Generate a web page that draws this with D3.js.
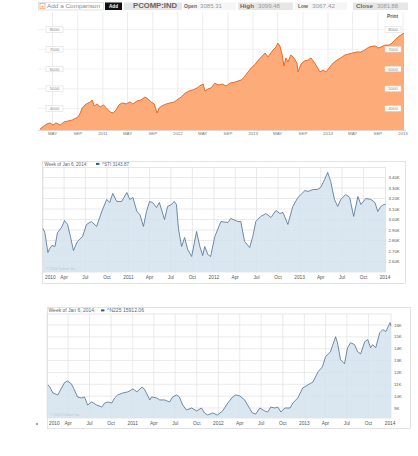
<!DOCTYPE html>
<html>
<head>
<meta charset="utf-8">
<script src="https://cdn.jsdelivr.net/npm/d3@7"></script>
<style>
  body { margin: 0; background: #fff; }
  svg { display: block; font-family: "Liberation Sans", Arial, sans-serif; }
</style>
</head>
<body>
<svg id="chart"></svg>
<script>
// ---- PCOMP:IND (top, orange) ----
const pcompDates = [
  "2010-03-01","2010-03-20","2010-04-04","2010-04-19","2010-05-03","2010-05-18","2010-06-07","2010-06-26","2010-07-16","2010-08-05",
  "2010-08-24","2010-09-03","2010-09-13","2010-09-22","2010-10-12","2010-11-01","2010-11-10","2010-11-20","2010-12-04","2010-12-19",
  "2011-01-03","2011-01-18","2011-02-06","2011-02-20","2011-03-06","2011-03-20","2011-04-04","2011-04-24","2011-05-13","2011-05-27",
  "2011-06-16","2011-07-05","2011-07-25","2011-08-09","2011-08-24","2011-09-08","2011-09-22","2011-10-02","2011-10-16","2011-11-05",
  "2011-11-24","2011-12-14",
  "2012-01-03","2012-01-17","2012-02-06","2012-02-25","2012-03-15","2012-04-04","2012-04-23","2012-05-03","2012-05-12","2012-05-27",
  "2012-06-11","2012-06-30","2012-07-15","2012-08-04","2012-08-23","2012-09-12","2012-10-06","2012-10-20","2012-11-04","2012-11-19",
  "2012-12-04","2012-12-23",
  "2013-01-12","2013-01-27","2013-02-15","2013-03-01","2013-03-15","2013-03-29","2013-04-08","2013-04-23","2013-05-02","2013-05-12",
  "2013-05-22","2013-06-01","2013-06-10","2013-06-20","2013-07-04","2013-07-19","2013-08-03","2013-08-08","2013-08-23","2013-09-07",
  "2013-09-26","2013-10-10","2013-10-25","2013-11-09","2013-11-23","2013-12-08","2013-12-22",
  "2014-01-06","2014-01-26","2014-02-14","2014-03-04","2014-03-24","2014-04-12","2014-05-01","2014-05-21","2014-06-10","2014-06-29",
  "2014-07-19","2014-08-08","2014-08-22","2014-09-01","2014-09-16","2014-10-05","2014-10-25","2014-11-08","2014-11-23","2014-12-07",
  "2014-12-22","2015-01-06"
];
const pcompValues = [
  2960,3110,3220,3270,3160,3270,3160,3320,3370,3420,
  3520,3580,3770,4030,4230,4330,4430,4130,4230,4080,
  4180,4030,3820,3770,3920,4180,4280,4230,4330,4230,
  4380,4430,4580,4480,4330,4230,3770,4030,4130,4230,
  4280,4330,
  4480,4580,4780,4890,4940,5040,5190,5240,4890,4990,
  5040,5290,5190,5240,5140,5290,5340,5390,5440,5590,
  5800,6050,
  6250,6450,6660,6810,6610,6810,6960,7110,7310,7160,
  6760,6150,6560,6350,6710,6560,6300,5850,6250,6400,
  6450,6560,6350,6100,5850,5950,5850,
  6050,6300,6450,6560,6710,6760,6810,6860,6860,6960,
  7110,7160,7160,7060,7110,7210,7210,7310,7470,7620,
  7720,7820
];
const pcompTickDates = ["2010-05-01","2010-09-01","2011-01-01","2011-05-01","2011-09-01","2012-01-01","2012-05-01","2012-09-01",
  "2013-01-01","2013-05-01","2013-09-01","2014-01-01","2014-05-01","2014-09-01","2015-01-01"];
const pcompTickLabels = ["MAY","SEP","2011","MAY","SEP","2012","MAY","SEP","2013","MAY","SEP","2014","MAY","SEP","2015"];
const pcompYTicks = [4000, 5000, 6000, 7000, 8000];

// ---- ^STI (middle, blue) ----
const stiDates = [
  "2010-01-01","2010-01-09","2010-01-22","2010-01-30","2010-02-08","2010-02-21","2010-03-04","2010-03-21","2010-04-03","2010-04-16",
  "2010-04-29","2010-05-11","2010-05-28","2010-06-19","2010-07-06","2010-07-27","2010-08-18","2010-09-09","2010-09-30","2010-10-13",
  "2010-10-26","2010-11-12","2010-12-03","2010-12-25",
  "2011-01-07","2011-01-20","2011-02-06","2011-02-19","2011-03-06","2011-03-19","2011-04-01","2011-04-14","2011-05-01","2011-05-13",
  "2011-06-04","2011-06-17","2011-07-04","2011-07-16","2011-07-25","2011-08-03","2011-08-16","2011-08-29","2011-09-11","2011-09-28",
  "2011-10-19","2011-11-02","2011-11-14","2011-11-23","2011-12-06","2011-12-18",
  "2012-01-05","2012-01-31","2012-03-01","2012-03-13","2012-04-12","2012-04-25","2012-05-11","2012-06-02","2012-06-15","2012-06-28",
  "2012-07-19","2012-08-10","2012-09-01","2012-09-22","2012-10-09","2012-10-22","2012-11-12","2012-12-03","2012-12-25",
  "2013-01-24","2013-02-06","2013-02-28","2013-03-19","2013-04-01","2013-04-18","2013-05-01","2013-05-14","2013-05-30","2013-06-13",
  "2013-06-26","2013-07-17","2013-08-03","2013-08-20","2013-09-07","2013-09-20","2013-10-11","2013-11-02","2013-11-19","2013-12-01",
  "2013-12-14","2013-12-27","2014-01-03"
];
const stiValues = [
  2914,2876,2686,2724,2753,2743,2876,2924,2990,2953,
  2829,2705,2791,2838,2953,2981,2934,3076,3191,3162,
  3248,3172,3172,3257,
  3191,3210,3076,3048,2934,3076,3172,3162,3114,3162,
  3000,3124,3143,3172,3143,2905,2743,2829,2714,2648,
  2886,2743,2657,2743,2667,2648,
  2838,2981,2971,3010,2981,2981,2791,2733,2838,2981,
  3029,3057,3019,3086,3057,3067,2953,3124,3210,
  3276,3267,3286,3286,3305,3381,3448,3362,3191,3124,
  3191,3238,3210,3029,3219,3143,3200,3191,3162,3076,
  3124,3143,3144
];
const stiYTicks = [2600, 2700, 2800, 2900, 3000, 3100, 3200, 3300, 3400];
const stiYLabels = ["2.60K","2.70K","2.80K","2.90K","3.00K","3.10K","3.20K","3.30K","3.40K"];

// ---- ^N225 (bottom, blue) ----
const n225Dates = [
  "2010-01-05","2010-01-13","2010-01-26","2010-02-16","2010-03-04","2010-03-16","2010-03-29","2010-04-15","2010-04-24","2010-05-11",
  "2010-05-28","2010-06-10","2010-06-23","2010-07-10","2010-08-01","2010-08-22","2010-09-04","2010-09-17","2010-10-04","2010-10-16",
  "2010-10-29","2010-11-20","2010-12-11",
  "2011-01-02","2011-01-19","2011-02-10","2011-02-22","2011-03-15","2011-03-22","2011-04-13","2011-04-26","2011-05-16","2011-06-07",
  "2011-06-20","2011-07-07","2011-07-19","2011-08-02","2011-08-18","2011-09-09","2011-09-30","2011-10-21","2011-11-03","2011-11-16",
  "2011-12-07","2011-12-28",
  "2012-01-19","2012-02-10","2012-03-01","2012-03-14","2012-04-01","2012-04-22","2012-05-04","2012-05-25","2012-06-08","2012-06-25",
  "2012-07-16","2012-07-29","2012-08-11","2012-08-28","2012-09-10","2012-09-23","2012-10-10","2012-11-01","2012-11-13","2012-12-04",
  "2012-12-25",
  "2013-01-16","2013-02-07","2013-02-28","2013-03-19","2013-04-01","2013-04-22","2013-05-14","2013-05-22","2013-06-04","2013-06-21",
  "2013-07-04","2013-07-17","2013-08-03","2013-08-16","2013-08-29","2013-09-15","2013-09-28","2013-10-10","2013-10-19","2013-11-01",
  "2013-11-18","2013-12-01","2013-12-14","2014-01-01","2014-01-05"
];
const n225Values = [
  10950,10780,10270,10100,10690,11120,11290,11030,10690,9930,
  9850,9930,9250,9510,9250,9080,9420,9510,9420,9850,
  10100,10270,10360,
  10610,10360,10780,10520,9680,9930,9850,9680,9680,9510,
  9930,10100,9930,9250,8830,9000,8750,9000,8580,8410,
  8580,8410,
  8750,9420,9930,10100,10020,9680,9250,8580,8490,9000,
  8750,8660,9080,9000,9080,8660,9000,9000,9420,9850,
  10690,
  10950,11200,12050,12470,13320,13740,15010,14510,13070,12730,
  14080,14510,14340,13740,13570,14590,14760,14080,14340,14080,
  15350,15610,15440,16200,15910
];
const n225YTicks = [9000, 10000, 11000, 12000, 13000, 14000, 15000, 16000];
const n225YLabels = ["9K","10K","11K","12K","13K","14K","15K","16K"];

const yahooTickLabels = ["2010","Apr","Jul","Oct","2011","Apr","Jul","Oct","2012","Apr","Jul","Oct","2013","Apr","Jul","Oct","2014"];

const parse = d3.timeParse("%Y-%m-%d");
const svg = d3.select("#chart").attr("width", 418).attr("height", 456);

// ================= top chart =================
const p1 = { left: 38, right: 406, top: 12, bottom: 130 };
const pcomp = pcompDates.map((d, i) => ({ date: parse(d), value: pcompValues[i] }));

const x1 = d3.scaleTime()
  .domain([pcomp[0].date, pcomp[pcomp.length - 1].date])
  .range([40, 404]);
const y1 = d3.scaleLinear().domain([4000, 8000]).range([108.5, 29.5]);

// toolbar
const tb = svg.append("g");
function tbBox(x, w, fill, stroke) {
  tb.append("rect").attr("x", x).attr("y", 2.5).attr("width", w).attr("height", 7.5)
    .attr("fill", fill).attr("stroke", stroke || "none").attr("stroke-width", 0.6);
}
function tbText(x, w, txt, color, weight, size) {
  tb.append("text").attr("x", x).attr("y", 8.3)
    .attr("font-size", size || 5.6).attr("font-weight", weight || "normal")
    .attr("fill", color).attr("textLength", w).attr("lengthAdjust", "spacingAndGlyphs")
    .text(txt);
}
tbBox(38.5, 65, "#fff", "#d0d0d0");
tb.append("rect").attr("x", 40).attr("y", 3.6).attr("width", 5).attr("height", 5.2)
  .attr("fill", "#fff").attr("stroke", "#ef8a3c").attr("stroke-width", 0.6);
tb.append("text").attr("x", 42.5).attr("y", 8).attr("text-anchor", "middle")
  .attr("font-size", 5.5).attr("fill", "#ef8a3c").text("+");
tbText(47, 53, "Add a Comparison", "#8a8a8a");
tbBox(105, 17, "#111");
tb.append("text").attr("x", 113.5).attr("y", 8.1).attr("text-anchor", "middle")
  .attr("font-size", 4.6).attr("font-weight", "bold").attr("fill", "#fff").text("Add");
tbBox(124, 58, "#e6e6e6");
tbText(133, 44, "PCOMP:IND", "#666", "bold", 6.4);
tbBox(183, 53, "#f6f6f6");
tbText(184, 13, "Open", "#666", "bold");
tbText(200, 22, "3085.31", "#9a9a9a");
tbBox(238, 55, "#e6e6e6");
tbText(240, 14, "High", "#666", "bold");
tbText(258, 22, "3099.48", "#9a9a9a");
tbBox(295, 52, "#f6f6f6");
tbText(298, 10, "Low", "#666", "bold");
tbText(312, 23, "3067.42", "#9a9a9a");
tbBox(353, 55, "#e6e6e6");
tbText(356, 17, "Close", "#666", "bold");
tbText(377, 21, "3081.88", "#9a9a9a");

svg.append("text").attr("x", 398).attr("y", 17.5).attr("text-anchor", "end")
  .attr("font-size", 4.8).attr("font-weight", "bold").attr("fill", "#555").text("Print");

// grid
const g1 = svg.append("g");
g1.selectAll("line.v").data(pcompTickDates).join("line")
  .attr("x1", d => x1(parse(d))).attr("x2", d => x1(parse(d)))
  .attr("y1", p1.top).attr("y2", p1.bottom)
  .attr("stroke", "#e4e4e4").attr("stroke-width", 0.7);
g1.selectAll("line.h").data(pcompYTicks).join("line")
  .attr("x1", p1.left).attr("x2", p1.right)
  .attr("y1", d => y1(d)).attr("y2", d => y1(d))
  .attr("stroke", "#ececec").attr("stroke-width", 0.7);

// area + line
svg.append("path").datum(pcomp)
  .attr("fill", "#fcab79")
  .attr("d", d3.area().x(d => x1(d.date)).y0(p1.bottom).y1(d => y1(d.value)));
svg.append("path").datum(pcomp)
  .attr("fill", "none").attr("stroke", "#f06a1c").attr("stroke-width", 1)
  .attr("stroke-linejoin", "round")
  .attr("d", d3.line().x(d => x1(d.date)).y(d => y1(d.value)));

// axis line and labels
svg.append("line").attr("x1", p1.left).attr("x2", p1.right)
  .attr("y1", p1.bottom + 0.5).attr("y2", p1.bottom + 0.5)
  .attr("stroke", "#cfcfcf").attr("stroke-width", 0.8);
svg.append("g").selectAll("text").data(pcompTickDates).join("text")
  .attr("x", d => x1(parse(d))).attr("y", 135)
  .attr("text-anchor", "middle").attr("font-size", 4.4).attr("fill", "#777")
  .text((d, i) => pcompTickLabels[i]);

// value boxes left and right
[[46, 17], [385, 16]].forEach(([bx, bw]) => {
  const g = svg.append("g");
  g.selectAll("rect").data(pcompYTicks).join("rect")
    .attr("x", bx).attr("y", d => y1(d) - 2.8).attr("width", bw).attr("height", 5.6)
    .attr("fill", "#fff").attr("stroke", "#d6d6d6").attr("stroke-width", 0.5);
  g.selectAll("text").data(pcompYTicks).join("text")
    .attr("x", bx + bw / 2).attr("y", d => y1(d) + 1.6)
    .attr("text-anchor", "middle").attr("font-size", 4.3).attr("fill", "#888")
    .text(d => d);
});

// ================= Yahoo style charts =================
function yahooChart(o) {
  const data = o.dates.map((d, i) => ({ date: parse(d), value: o.values[i] }));
  const g = svg.append("g");
  const x = d3.scaleTime()
    .domain([new Date(2010, 0, 1), data[data.length - 1].date])
    .range([o.left, o.right]);
  const y = d3.scaleLinear().domain(o.yRef).range(o.yRefPx);

  g.append("rect").attr("x", o.box[0] + 0.5).attr("y", o.box[1] + 0.5)
    .attr("width", o.box[2]).attr("height", o.box[3])
    .attr("fill", "none").attr("stroke", "#d8d8d8").attr("stroke-width", 0.7);

  // header
  g.append("text").attr("x", o.left + 1.5).attr("y", o.top - 2)
    .attr("font-size", o.hSize).attr("fill", "#666").attr("textLength", o.hLen[0])
    .attr("lengthAdjust", "spacingAndGlyphs").text("Week of Jan 6, 2014:");
  g.append("rect").attr("x", o.hLen[1]).attr("y", o.top - 4.6)
    .attr("width", 3.4).attr("height", 2).attr("fill", "#2d5a86");
  g.append("text").attr("x", o.hLen[1] + 6).attr("y", o.top - 2)
    .attr("font-size", o.hSize).attr("fill", "#4a6a8a").attr("textLength", o.hLen[2])
    .attr("lengthAdjust", "spacingAndGlyphs").text(o.series);

  const ticks = d3.timeMonth.every(3).range(new Date(2010, 0, 1), new Date(2014, 0, 2));
  // grid
  g.selectAll("line.v").data(ticks.slice(1, -1)).join("line")
    .attr("x1", d => x(d)).attr("x2", d => x(d))
    .attr("y1", o.top).attr("y2", o.bottom)
    .attr("stroke", "#e1e1e1").attr("stroke-width", 0.7);
  g.selectAll("line.h").data(o.gridVals).join("line")
    .attr("x1", o.left).attr("x2", o.right)
    .attr("y1", d => y(d)).attr("y2", d => y(d))
    .attr("stroke", "#e1e1e1").attr("stroke-width", 0.7);
  g.append("rect").attr("x", o.left).attr("y", o.top)
    .attr("width", o.right - o.left).attr("height", o.bottom - o.top)
    .attr("fill", "none").attr("stroke", "#dcdcdc").attr("stroke-width", 0.7);

  g.append("path").datum(data)
    .attr("fill", "#d3e3ef").attr("fill-opacity", 0.85)
    .attr("d", d3.area().x(d => x(d.date)).y0(o.bottom).y1(d => y(d.value)));
  g.append("path").datum(data)
    .attr("fill", "none").attr("stroke", "#4e7090").attr("stroke-width", 0.8)
    .attr("stroke-linejoin", "round")
    .attr("d", d3.line().x(d => x(d.date)).y(d => y(d.value)));

  g.append("text").attr("x", o.left + 3).attr("y", o.bottom - 2.5)
    .attr("font-size", 3.6).attr("fill", "#bcc6ce").text("© 2014 Yahoo! Inc.");

  // right labels
  g.selectAll("text.yl").data(o.yTicks).join("text")
    .attr("x", o.right + 3).attr("y", d => y(d) + 1.5)
    .attr("font-size", 4.3).attr("fill", "#555")
    .text((d, i) => o.yLabels[i]);
  // bottom labels
  g.selectAll("text.xl").data(ticks).join("text")
    .attr("x", (d, i) => i === 0 ? o.left + 2 : x(d))
    .attr("y", o.bottom + 6.5)
    .attr("text-anchor", (d, i) => i === 0 ? "start" : "middle")
    .attr("font-size", 4.8).attr("fill", "#555")
    .text((d, i) => yahooTickLabels[i]);
}

yahooChart({
  dates: stiDates, values: stiValues, series: "^STI 3143.87",
  left: 43, right: 385.5, top: 167.5, bottom: 272,
  box: [42, 161, 363, 122],
  yRef: [2600, 3400], yRefPx: [261.5, 177.5],
  gridVals: [2600, 2700, 2800, 2900, 3000, 3100, 3200, 3300, 3400],
  yTicks: stiYTicks, yLabels: stiYLabels,
  hSize: 4.6, hLen: [43, 96, 27]
});

yahooChart({
  dates: n225Dates, values: n225Values, series: "^N225 15912.06",
  left: 47, right: 391, top: 314, bottom: 418,
  box: [47, 307, 363, 121],
  yRef: [9000, 16000], yRefPx: [408, 325],
  gridVals: [9000, 10000, 11000, 12000, 13000, 14000, 15000, 16000],
  yTicks: n225YTicks, yLabels: n225YLabels,
  hSize: 4.8, hLen: [47, 101, 37]
});

svg.append("circle").attr("cx", 37).attr("cy", 424).attr("r", 0.8).attr("fill", "#333");
</script>
</body>
</html>
